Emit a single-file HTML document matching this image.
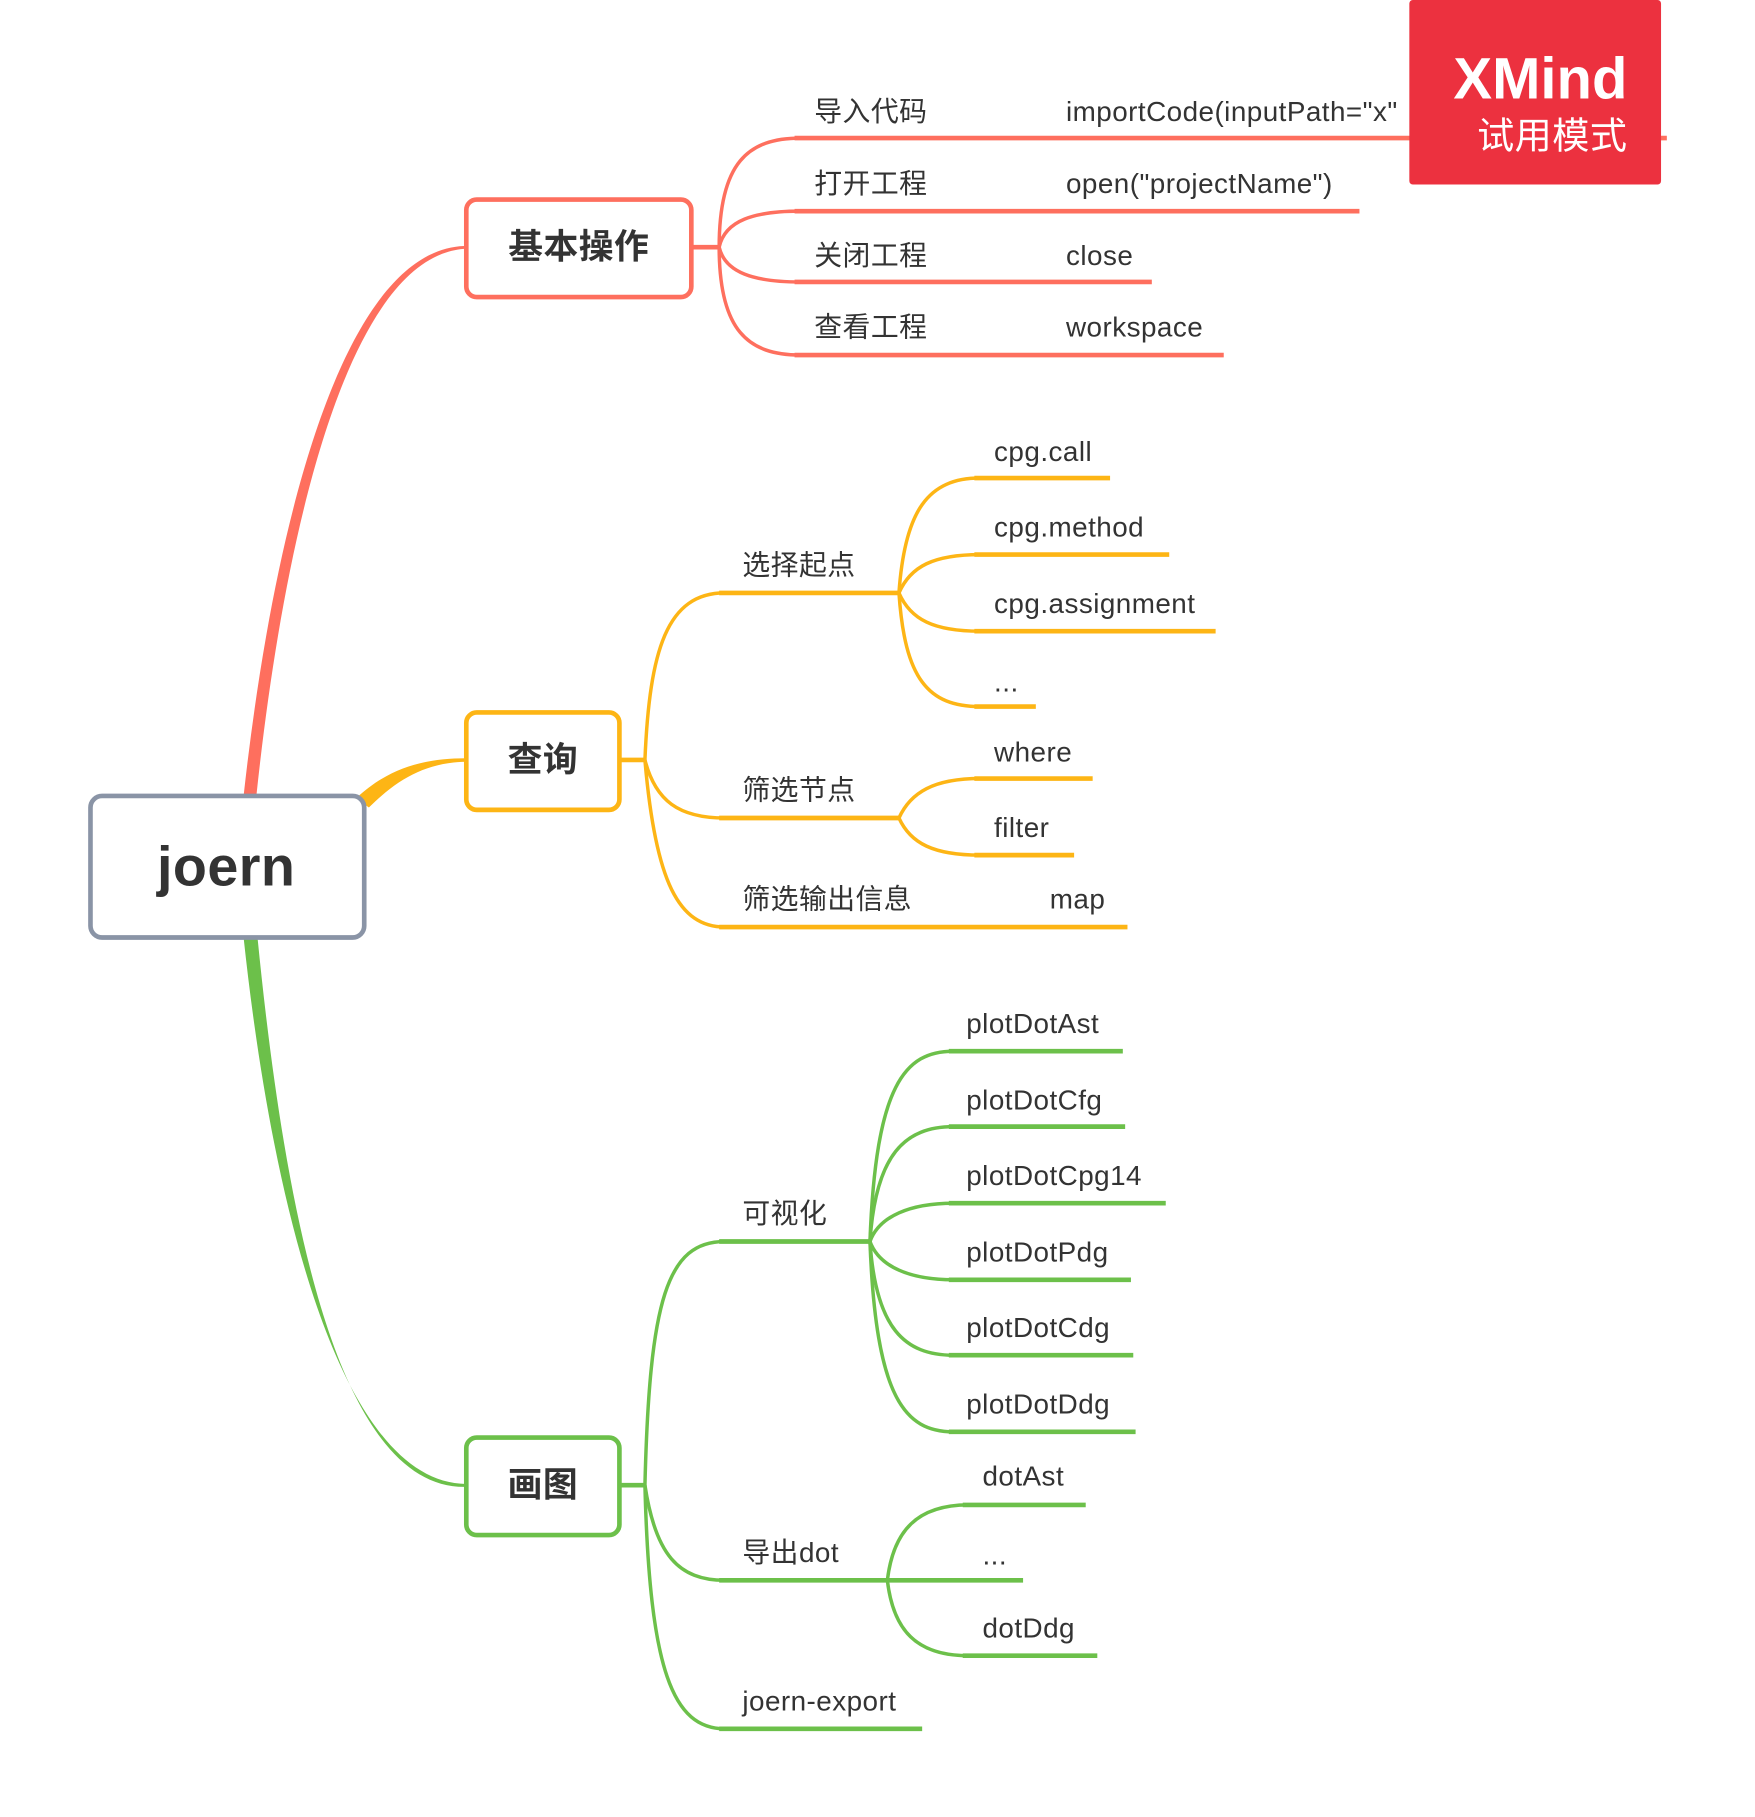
<!DOCTYPE html>
<html><head><meta charset="utf-8"><style>
html,body{margin:0;padding:0;background:#fff;}
svg{display:block;}
text{font-family:"Liberation Sans","Noto Sans CJK SC",sans-serif;fill:#333;font-size:24px;dominant-baseline:central;letter-spacing:0.4px;}
.b{font-weight:bold;}
</style></head><body>
<svg width="1755" height="1817" viewBox="0 0 1513 1566" preserveAspectRatio="none" xmlns="http://www.w3.org/2000/svg">
<!-- tapered main branches -->
<path d="M210,686 C236,450 296,216 400,212 L400,214.5 C302,222 246,450 221,686 Z" fill="#fe6f5e"/>
<path d="M307,688 C335,662 365,653.5 402,653.5 L402,656.5 C368,657 343,671 318,696 Z" fill="#fdb515"/>
<path d="M210,808 C236,1050 296,1278 402,1279 L402,1281.5 C292,1284 246,1050 222,808 Z" fill="#6cc04a"/>
<g fill="none" stroke-linecap="butt">
<!-- RED -->
<path d="M596,213 H620" stroke="#fe6f5e" stroke-width="4"/>
<g stroke="#fe6f5e" stroke-width="3">
<path d="M620,213 C620,140 645,119 690,119"/>
<path d="M620,213 C625,190 650,182 690,182"/>
<path d="M620,213 C625,235 650,243 690,243"/>
<path d="M620,213 C620,285 645,306 690,306"/>
</g>
<g stroke="#fe6f5e" stroke-width="4">
<path d="M685,119 H1437"/><path d="M685,182 H1172"/><path d="M685,243 H993"/><path d="M685,306 H1055"/>
</g>
<!-- YELLOW -->
<path d="M534,655 H556" stroke="#fdb515" stroke-width="4"/>
<g stroke="#fdb515" stroke-width="3">
<path d="M556,655 C560,560 575,511 625,511"/>
<path d="M556,655 C565,690 585,705 625,705"/>
<path d="M556,655 C565,760 585,799 625,799"/>
<path d="M775,511 C780,440 800,412 845,412"/>
<path d="M775,511 C785,488 805,478 845,478"/>
<path d="M775,511 C785,534 805,544 845,544"/>
<path d="M775,511 C780,585 800,609 845,609"/>
<path d="M775,705 C785,683 805,671 845,671"/>
<path d="M775,705 C785,727 805,737 845,737"/>
</g>
<g stroke="#fdb515" stroke-width="4">
<path d="M620,511 H775"/><path d="M620,705 H775"/><path d="M620,799 H972"/>
<path d="M840,412 H957"/><path d="M840,478 H1008"/><path d="M840,544 H1048"/><path d="M840,609 H893"/>
<path d="M840,671 H942"/><path d="M840,737 H926"/>
</g>
<!-- GREEN -->
<path d="M534,1280 H556" stroke="#6cc04a" stroke-width="4"/>
<g stroke="#6cc04a" stroke-width="3">
<path d="M556,1280 C560,1120 575,1070 625,1070"/>
<path d="M556,1280 C565,1340 585,1362 625,1362"/>
<path d="M556,1280 C560,1440 580,1490 625,1490"/>
<path d="M750,1070 C755,935 780,906 822,906"/>
<path d="M750,1070 C755,995 780,971 822,971"/>
<path d="M750,1070 C758,1048 785,1037 822,1037"/>
<path d="M750,1070 C758,1092 785,1103 822,1103"/>
<path d="M750,1070 C755,1145 780,1168 822,1168"/>
<path d="M750,1070 C755,1205 780,1234 822,1234"/>
<path d="M765,1362 C770,1320 790,1297 835,1297"/>
<path d="M765,1362 C770,1405 790,1427 835,1427"/>
</g>
<g stroke="#6cc04a" stroke-width="4">
<path d="M620,1070 H750"/><path d="M620,1362 H882"/><path d="M620,1490 H795"/>
<path d="M818,906 H968"/><path d="M818,971 H970"/><path d="M818,1037 H1005"/><path d="M818,1103 H975"/><path d="M818,1168 H977"/><path d="M818,1234 H979"/>
<path d="M830,1297 H936"/><path d="M830,1427 H946"/>
</g>
<!-- boxes -->
<rect x="78" y="686" width="236" height="122" rx="10" fill="#fff" stroke="#8a94a6" stroke-width="4"/>
<rect x="402" y="172" width="194" height="84" rx="9" fill="#fff" stroke="#fe6f5e" stroke-width="4"/>
<rect x="402" y="614" width="132" height="84" rx="9" fill="#fff" stroke="#fdb515" stroke-width="4"/>
<rect x="402" y="1239" width="132" height="84" rx="9" fill="#fff" stroke="#6cc04a" stroke-width="4"/>
</g>
<text x="195" y="747" text-anchor="middle" class="b" style="font-size:48px">joern</text>
<text x="499" y="213" text-anchor="middle" class="b" style="font-size:30px">基本操作</text>
<text x="468" y="655" text-anchor="middle" class="b" style="font-size:30px">查询</text>
<text x="468" y="1280" text-anchor="middle" class="b" style="font-size:30px">画图</text>

<text x="702" y="96">导入代码</text><text x="919" y="96">importCode(inputPath="x"</text>
<text x="702" y="158">打开工程</text><text x="919" y="158">open("projectName")</text>
<text x="702" y="220">关闭工程</text><text x="919" y="220">close</text>
<text x="702" y="282">查看工程</text><text x="919" y="282">workspace</text>

<text x="640" y="487">选择起点</text>
<text x="640" y="681">筛选节点</text>
<text x="640" y="775">筛选输出信息</text><text x="905" y="775">map</text>
<text x="857" y="389">cpg.call</text>
<text x="857" y="454">cpg.method</text>
<text x="857" y="520">cpg.assignment</text>
<text x="857" y="588">...</text>
<text x="857" y="648">where</text>
<text x="857" y="713">filter</text>

<text x="640" y="1046">可视化</text>
<text x="640" y="1338">导出dot</text>
<text x="640" y="1466">joern-export</text>
<text x="833" y="882">plotDotAst</text>
<text x="833" y="948">plotDotCfg</text>
<text x="833" y="1013">plotDotCpg14</text>
<text x="833" y="1079">plotDotPdg</text>
<text x="833" y="1144">plotDotCdg</text>
<text x="833" y="1210">plotDotDdg</text>
<text x="847" y="1272">dotAst</text>
<text x="847" y="1340">...</text>
<text x="847" y="1403">dotDdg</text>

<rect x="1215" y="0" width="217" height="159" rx="3" fill="#ec313f"/>
<text x="1403" y="68" text-anchor="end" class="b" style="fill:#fff;font-size:50px;letter-spacing:0">XMind</text>
<text x="1403" y="117" text-anchor="end" style="fill:#fff;font-size:32px">试用模式</text>
</svg>
</body></html>
